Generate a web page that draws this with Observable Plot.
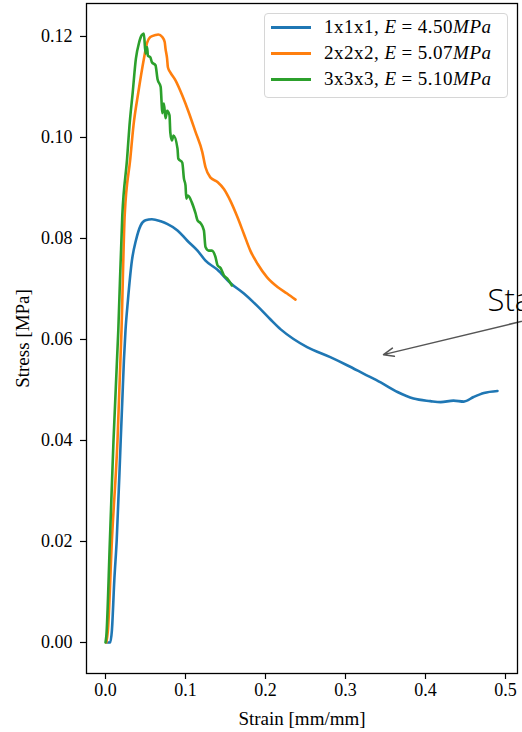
<!DOCTYPE html>
<html>
<head>
<meta charset="utf-8">
<script src="https://cdn.jsdelivr.net/npm/d3@7"></script>
<script src="https://cdn.jsdelivr.net/npm/@observablehq/plot@0.6"></script>
<style>
  html, body { margin: 0; padding: 0; background: #fff; overflow: hidden; }
  #wrap { position: relative; width: 522px; height: 732px; }
  #legend { position: absolute; left: 264px; top: 13px; width: 242px; height: 83px;
    border: 1px solid #d6d6d6; border-radius: 4px; background: rgba(255,255,255,0.85);
    font-family: "Liberation Serif", serif; font-size: 19px; letter-spacing: 0.5px; color: #000; }
  .row { position: absolute; left: 0; height: 26px; line-height: 26px; white-space: nowrap; }
  .sw { position: absolute; left: 6px; top: 12px; width: 40px; height: 2.5px; }
  .lab { position: absolute; left: 59px; top: 0; }
  .eq { padding: 0 5px; }
</style>
</head>
<body>
<div id="wrap"></div>
<script>
// ---- data ----
const seriesNames = ["1x1x1", "2x2x2", "3x3x3"];
const moduli = ["4.50", "5.07", "5.10"];
const colors = ["#1f77b4", "#ff7f0e", "#2ca02c"];

const strain1 = [0.002, 0.006, 0.008, 0.011, 0.014, 0.019, 0.021, 0.023, 0.025, 0.028, 0.033, 0.038, 0.044, 0.050, 0.058, 0.069, 0.077, 0.090, 0.102, 0.115, 0.125, 0.140, 0.156, 0.173, 0.190, 0.206, 0.219, 0.235, 0.252, 0.281, 0.302, 0.323, 0.344, 0.365, 0.385, 0.406, 0.419, 0.435, 0.448, 0.460, 0.473, 0.490];
const stress1 = [0.0, 0.0, 0.0024, 0.0123, 0.0202, 0.0400, 0.0479, 0.0558, 0.0618, 0.0677, 0.0756, 0.0796, 0.0826, 0.0836, 0.0838, 0.0834, 0.0829, 0.0816, 0.0796, 0.0776, 0.0756, 0.0738, 0.0712, 0.0691, 0.0666, 0.0640, 0.0620, 0.0601, 0.0585, 0.0565, 0.0549, 0.0532, 0.0515, 0.0496, 0.0483, 0.0478, 0.0476, 0.0479, 0.0477, 0.0486, 0.0494, 0.0498];

const strain2 = [0.001, 0.003, 0.008, 0.015, 0.020, 0.024, 0.031, 0.035, 0.041, 0.048, 0.052, 0.056, 0.0625, 0.066, 0.071, 0.074, 0.075, 0.077, 0.078, 0.081, 0.0875, 0.096, 0.104, 0.1125, 0.121, 0.125, 0.131, 0.140, 0.148, 0.156, 0.165, 0.173, 0.181, 0.190, 0.202, 0.215, 0.227, 0.2375];
const stress2 = [0.0, 0.0024, 0.0202, 0.0400, 0.0618, 0.0846, 0.0958, 0.1024, 0.1089, 0.1156, 0.1188, 0.1199, 0.1203, 0.1204, 0.1199, 0.1189, 0.1176, 0.1156, 0.1139, 0.1129, 0.1113, 0.1083, 0.1050, 0.1011, 0.0971, 0.0941, 0.0921, 0.0912, 0.0898, 0.0875, 0.0842, 0.0809, 0.0776, 0.0750, 0.0723, 0.0704, 0.0691, 0.0679];

const strain3 = [0.0, 0.001, 0.0055, 0.010, 0.016, 0.021, 0.027, 0.030, 0.034, 0.038, 0.042, 0.045, 0.048, 0.050, 0.052, 0.053, 0.056, 0.058, 0.0625, 0.065, 0.069, 0.070, 0.071, 0.073, 0.075, 0.077, 0.080, 0.081, 0.083, 0.085, 0.090, 0.091, 0.096, 0.098, 0.100, 0.101, 0.103, 0.108, 0.1125, 0.115, 0.119, 0.123, 0.125, 0.129, 0.133, 0.1375, 0.140, 0.144, 0.148, 0.152, 0.158];
const stress3 = [0.0, 0.0012, 0.0202, 0.0400, 0.0618, 0.0846, 0.0958, 0.1024, 0.1089, 0.1156, 0.1188, 0.1202, 0.1206, 0.1166, 0.1179, 0.1162, 0.1159, 0.1149, 0.1143, 0.1116, 0.1100, 0.1073, 0.1048, 0.1067, 0.1038, 0.1053, 0.1044, 0.1010, 0.0994, 0.1004, 0.0978, 0.0958, 0.0950, 0.0919, 0.0905, 0.0879, 0.0885, 0.0871, 0.0850, 0.0836, 0.0830, 0.0816, 0.0783, 0.0776, 0.0776, 0.0763, 0.0747, 0.0741, 0.0727, 0.0721, 0.0707];

const xTicks = [0.0, 0.1, 0.2, 0.3, 0.4, 0.5];
const yTicks = [0.00, 0.02, 0.04, 0.06, 0.08, 0.10, 0.12];
const xLabel = "Strain [mm/mm]";
const yLabel = "Stress [MPa]";

// annotation (partially cut off at the right edge in the reference)
const annText = ["Sta"];
const annTextX = [0.4775];
const annTextY = [0.0657];
const annFromX = [0.544];
const annFromY = [0.0645];
const annToX = [0.3475];
const annToY = [0.0570];

// ---- build tables ----
const toRows = (xs, ys) => xs.map((x, i) => ({x, y: ys[i]}));
const s1 = toRows(strain1, stress1);
const s2 = toRows(strain2, stress2);
const s3 = toRows(strain3, stress3);
const ann = annText.map((t, i) => ({t, tx: annTextX[i], ty: annTextY[i], x1: annFromX[i], y1: annFromY[i], x2: annToX[i], y2: annToY[i]}));

const chart = Plot.plot({
  width: 522,
  height: 732,
  marginLeft: 86,
  marginRight: 5,
  marginTop: 3,
  marginBottom: 59,
  style: {fontFamily: "'Liberation Serif', serif", fontSize: "18px", color: "#000", background: "#fff", overflow: "hidden"},
  x: {domain: [-0.02375, 0.515]},
  y: {domain: [-0.00614, 0.12653]},
  marks: [
    Plot.axisX({ticks: xTicks, tickFormat: d3.format(".1f"), tickSize: 6, tickPadding: 4, strokeWidth: 1.2, label: null}),
    Plot.axisY({ticks: yTicks, tickFormat: d3.format(".2f"), tickSize: 6, tickPadding: 8, strokeWidth: 1.2, label: null}),
    Plot.line(s1, {x: "x", y: "y", stroke: colors[0], strokeWidth: 2.6, curve: "monotone-x"}),
    Plot.line(s2, {x: "x", y: "y", stroke: colors[1], strokeWidth: 2.6, curve: "monotone-x"}),
    Plot.line(s3, {x: "x", y: "y", stroke: colors[2], strokeWidth: 2.6, curve: "monotone-x"}),
    Plot.arrow(ann, {x1: "x1", y1: "y1", x2: "x2", y2: "y2", stroke: "#555", strokeWidth: 1.5, headLength: 11, headAngle: 45}),
    Plot.text(ann, {x: "tx", y: "ty", text: "t", textAnchor: "start", lineAnchor: "bottom", fontSize: 31, fontFamily: "'Open Sans', sans-serif", fontWeight: 300, fill: "#000"}),
    Plot.text([yLabel], {frameAnchor: "left", dx: -64, rotate: -90, textAnchor: "middle", lineAnchor: "middle", text: d => d, fontSize: 19, letterSpacing: "0.5px", fill: "#000"}),
    Plot.text([xLabel], {frameAnchor: "bottom", dy: 45, textAnchor: "middle", lineAnchor: "middle", text: d => d, fontSize: 19, letterSpacing: "0.5px", fill: "#000"}),
    Plot.frame({stroke: "#000", strokeWidth: 1.3})
  ]
});

const wrap = document.getElementById("wrap");
wrap.appendChild(chart);

// legend
const legend = document.createElement("div");
legend.id = "legend";
seriesNames.forEach((name, i) => {
  const row = document.createElement("div");
  row.className = "row";
  row.style.top = (i * 26) + "px";
  row.style.width = "100%";
  row.innerHTML = `<span class="sw" style="background:${colors[i]}"></span><span class="lab">${name}, <i>E</i><span class="eq">=</span>${moduli[i]}<i>MPa</i></span>`;
  legend.appendChild(row);
});
wrap.appendChild(legend);
</script>
</body>
</html>
